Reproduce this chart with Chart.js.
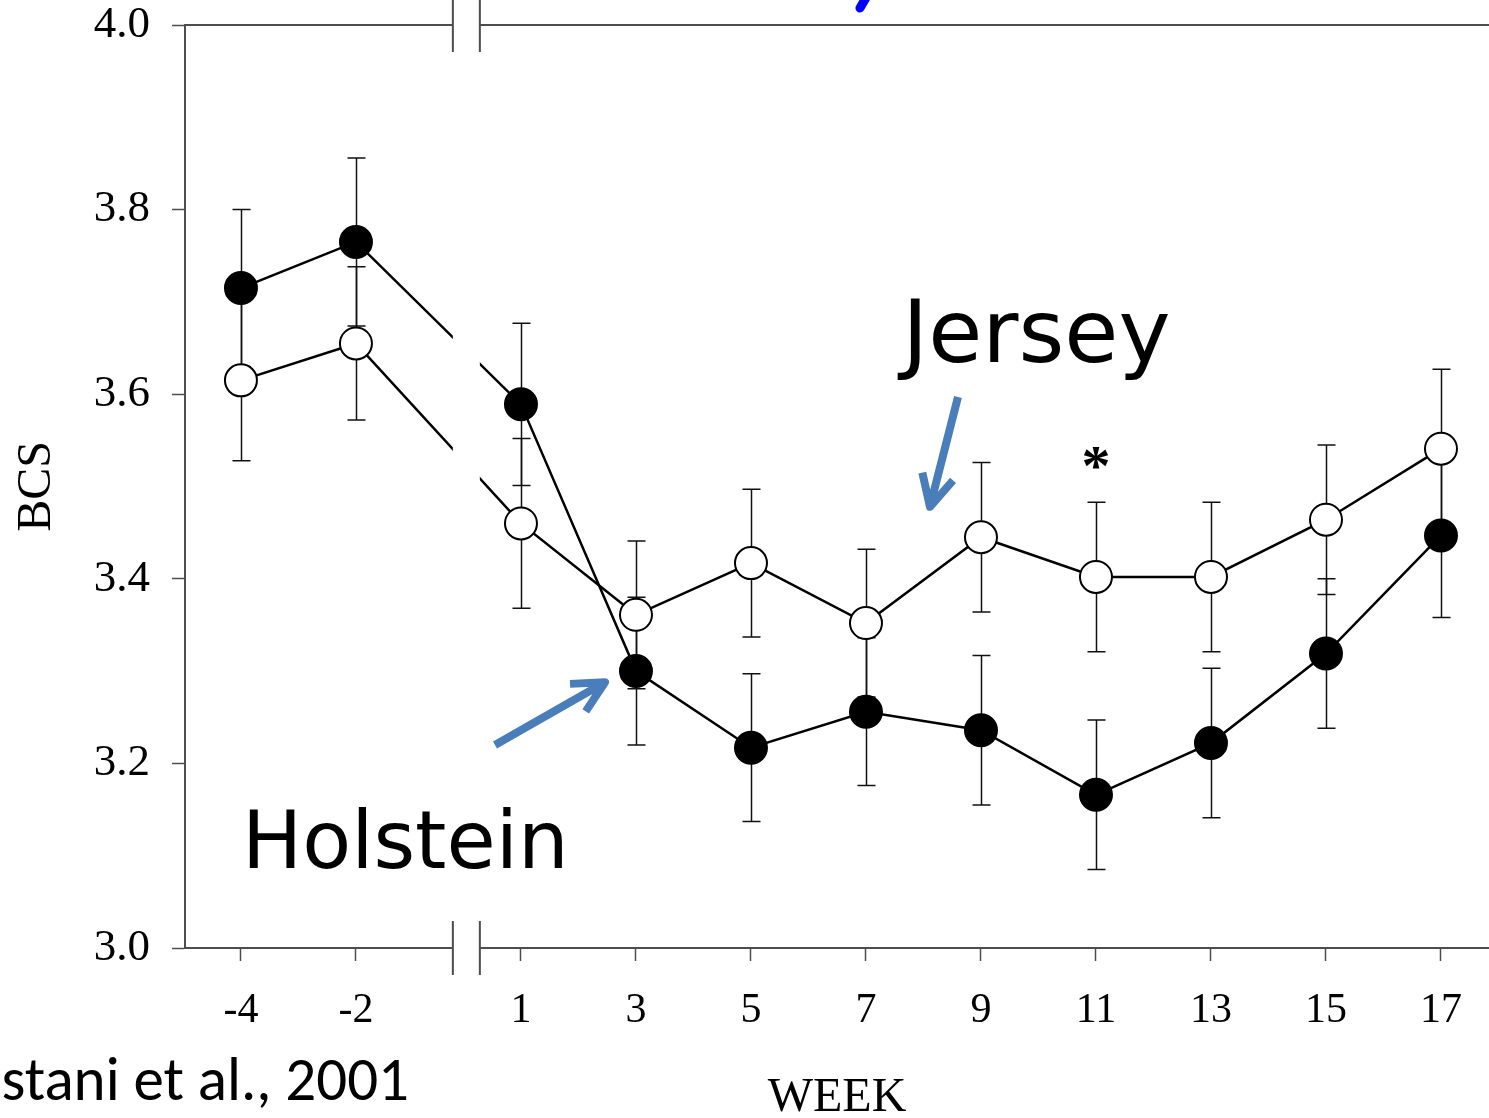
<!DOCTYPE html>
<html>
<head>
<meta charset="utf-8">
<title>BCS by week, Holstein vs Jersey</title>
<script src="https://cdn.jsdelivr.net/npm/chart.js@4.4.1/dist/chart.umd.min.js"></script>
<style>
  html, body { margin: 0; padding: 0; background: #fff; overflow: hidden; }
  #wrap { width: 1489px; height: 1118px; position: relative; }
  canvas { display: block; }
</style>
</head>
<body>
<div id="wrap"><canvas id="bcsChart"></canvas></div>
<script>
// Data
const weeks = [-4, -2, 1, 3, 5, 7, 9, 11, 13, 15, 17];
const holstein = [3.715, 3.765, 3.589, 3.300, 3.217, 3.256, 3.236, 3.166, 3.222, 3.319, 3.447];
const holsteinSE = [0.085, 0.091, 0.088, 0.080, 0.080, 0.080, 0.081, 0.081, 0.081, 0.081, 0.089];
const jersey = [3.615, 3.655, 3.460, 3.361, 3.417, 3.352, 3.445, 3.402, 3.402, 3.464, 3.541];
const jerseySE = [0.087, 0.083, 0.092, 0.080, 0.080, 0.080, 0.081, 0.081, 0.081, 0.081, 0.086];
const yTicks = [3.0, 3.2, 3.4, 3.6, 3.8, 4.0];
const significantWeeks = [11];

// Axis break between prepartum and postpartum weeks
const PRE_SHIFT = 0.13;   // prepartum weeks sit a little closer to week 1
const BREAK_AT = 0.05;    // where the break marks go, in axis units
const BREAK_HALF = 13.5;  // px
const AXIS_COLOR = '#4d4d4d';

const axisPos = w => (w < 0 ? w + PRE_SHIFT : w);
const toPoints = vals => vals.map((v, i) => ({ x: axisPos(weeks[i]), y: v }));

// Error bars drawn under the markers, then clip the lines at the break
const errorBars = {
    id: 'errorBars',
    beforeDatasetsDraw(chart) {
        const { ctx, chartArea: a, scales: { x, y } } = chart;
        ctx.save();
        ctx.strokeStyle = '#111';
        ctx.lineWidth = 1.5;
        chart.data.datasets.forEach(ds => {
            ds.data.forEach((p, i) => {
                const px = Math.round(x.getPixelForValue(p.x)) + 0.5;
                const top = y.getPixelForValue(p.y + ds.se[i]);
                const bot = y.getPixelForValue(p.y - ds.se[i]);
                ctx.beginPath();
                ctx.moveTo(px, top);
                ctx.lineTo(px, bot);
                ctx.moveTo(px - 9, top);
                ctx.lineTo(px + 9, top);
                ctx.moveTo(px - 9, bot);
                ctx.lineTo(px + 9, bot);
                ctx.stroke();
            });
        });
        ctx.restore();

        const bx = x.getPixelForValue(BREAK_AT);
        ctx.save();
        ctx.beginPath();
        ctx.rect(0, 0, chart.width, chart.height);
        ctx.rect(bx - BREAK_HALF, a.top, BREAK_HALF * 2, a.bottom - a.top);
        ctx.clip('evenodd');
    },
    afterDatasetsDraw(chart) {
        chart.ctx.restore();
    }
};

function drawArrow(ctx, x1, y1, x2, y2) {
    const ang = Math.atan2(y2 - y1, x2 - x1);
    const head = 35, spread = 0.47;
    ctx.beginPath();
    ctx.moveTo(x1, y1);
    ctx.lineTo(x2, y2);
    ctx.moveTo(x2 - head * Math.cos(ang - spread), y2 - head * Math.sin(ang - spread));
    ctx.lineTo(x2, y2);
    ctx.lineTo(x2 - head * Math.cos(ang + spread), y2 - head * Math.sin(ang + spread));
    ctx.stroke();
}

// Frame lines with the break, significance mark and the slide annotations
const frame = {
    id: 'frame',
    afterDraw(chart) {
        const { ctx, chartArea: a, scales: { x, y } } = chart;
        const bx = x.getPixelForValue(BREAK_AT);
        ctx.save();

        ctx.strokeStyle = AXIS_COLOR;
        ctx.lineWidth = 2;
        [a.top, a.bottom].forEach(ly => {
            ctx.beginPath();
            ctx.moveTo(a.left, ly);
            ctx.lineTo(bx - BREAK_HALF, ly);
            ctx.moveTo(bx + BREAK_HALF, ly);
            ctx.lineTo(a.right, ly);
            ctx.stroke();
            ctx.beginPath();
            ctx.moveTo(bx - BREAK_HALF, ly - 27);
            ctx.lineTo(bx - BREAK_HALF, ly + 27);
            ctx.moveTo(bx + BREAK_HALF, ly - 27);
            ctx.lineTo(bx + BREAK_HALF, ly + 27);
            ctx.stroke();
        });

        // significance asterisk
        ctx.fillStyle = '#000';
        ctx.font = 'bold 58px "Liberation Serif", "Times New Roman", serif';
        ctx.textAlign = 'center';
        ctx.textBaseline = 'alphabetic';
        significantWeeks.forEach(w => {
            const i = weeks.indexOf(w);
            const topVal = Math.max(holstein[i] + holsteinSE[i], jersey[i] + jerseySE[i]) + 0.048;
            ctx.fillText('*', x.getPixelForValue(axisPos(w)), y.getPixelForValue(topVal) + 27);
        });

        // breed labels
        ctx.textAlign = 'left';
        ctx.font = '88px "Comic Sans MS", "DejaVu Sans", sans-serif';
        ctx.fillText('Jersey', x.getPixelForValue(7.63), y.getPixelForValue(3.635));
        ctx.font = '80px "Comic Sans MS", "DejaVu Sans", sans-serif';
        ctx.fillText('Holstein', x.getPixelForValue(-3.85), y.getPixelForValue(3.087));

        // arrows
        ctx.strokeStyle = '#4a7ebb';
        ctx.lineWidth = 8;
        ctx.lineCap = 'butt';
        ctx.lineJoin = 'round';
        drawArrow(ctx, x.getPixelForValue(8.60), y.getPixelForValue(3.597),
                       x.getPixelForValue(8.113), y.getPixelForValue(3.478));
        drawArrow(ctx, x.getPixelForValue(0.548), y.getPixelForValue(3.220),
                       x.getPixelForValue(2.461), y.getPixelForValue(3.288));

        // tail of the slide title that is cut off at the top
        ctx.strokeStyle = '#0000ff';
        ctx.lineWidth = 9;
        ctx.lineCap = 'round';
        ctx.beginPath();
        ctx.moveTo(867, -4);
        ctx.lineTo(860, 8);
        ctx.stroke();

        // citation, cut at the left edge
        ctx.fillStyle = '#000';
        ctx.textAlign = 'right';
        ctx.font = '61px Carlito, Calibri, Lato, sans-serif';
        ctx.fillText('stani et al., 2001', 409, 1100);

        ctx.restore();
    }
};

const ctx = document.getElementById('bcsChart').getContext('2d');
new Chart(ctx, {
    type: 'line',
    data: {
        datasets: [
            {
                label: 'Holstein',
                data: toPoints(holstein),
                se: holsteinSE,
                borderColor: '#000',
                borderWidth: 2.5,
                pointRadius: 16,
                pointBorderWidth: 2,
                pointBackgroundColor: '#000',
                pointBorderColor: '#000',
                tension: 0
            },
            {
                label: 'Jersey',
                data: toPoints(jersey),
                se: jerseySE,
                borderColor: '#000',
                borderWidth: 2.5,
                pointRadius: 16,
                pointBorderWidth: 2,
                pointBackgroundColor: '#fff',
                pointBorderColor: '#000',
                tension: 0
            }
        ]
    },
    options: {
        responsive: true,
        maintainAspectRatio: false,
        animation: false,
        layout: { autoPadding: false, padding: { top: 25, right: 0, bottom: 0, left: 0 } },
        plugins: {
            legend: { display: false },
            tooltip: { enabled: false }
        },
        scales: {
            x: {
                type: 'linear',
                min: -4.843,
                max: 17.835,
                afterBuildTicks: axis => {
                    axis.ticks = weeks.map(w => ({ value: axisPos(w) }));
                },
                afterFit: axis => {
                    axis.height = 170;
                    axis.paddingLeft = 0;
                    axis.paddingRight = 0;
                },
                ticks: {
                    autoSkip: false,
                    maxRotation: 0,
                    padding: 25,
                    color: '#000',
                    font: { family: '"Liberation Serif", "Times New Roman", serif', size: 42 },
                    callback: (v, i) => String(weeks[i])
                },
                grid: {
                    drawOnChartArea: false,
                    drawTicks: true,
                    tickLength: 13,
                    tickWidth: 1.5,
                    tickColor: AXIS_COLOR
                },
                border: { display: false },
                title: {
                    display: true,
                    text: 'WEEK',
                    color: '#000',
                    font: { family: '"Liberation Serif", "Times New Roman", serif', size: 48, lineHeight: 0.8 },
                    padding: { top: 0, bottom: 0 }
                }
            },
            y: {
                min: 3.0,
                max: 4.0,
                afterBuildTicks: axis => {
                    axis.ticks = yTicks.map(v => ({ value: v }));
                },
                afterFit: axis => {
                    axis.width = 185;
                    axis.paddingTop = 0;
                    axis.paddingBottom = 0;
                },
                ticks: {
                    padding: 22,
                    color: '#000',
                    font: { family: '"Liberation Serif", "Times New Roman", serif', size: 45, lineHeight: 1 },
                    callback: v => v.toFixed(1)
                },
                grid: {
                    drawOnChartArea: false,
                    drawTicks: true,
                    tickLength: 13,
                    tickWidth: 1.5,
                    tickColor: AXIS_COLOR
                },
                border: { display: true, color: AXIS_COLOR, width: 2 },
                title: {
                    display: true,
                    text: 'BCS',
                    color: '#000',
                    font: { family: '"Liberation Serif", "Times New Roman", serif', size: 48 },
                    padding: { top: 9, bottom: 0 }
                }
            }
        }
    },
    plugins: [errorBars, frame]
});
</script>
</body>
</html>
